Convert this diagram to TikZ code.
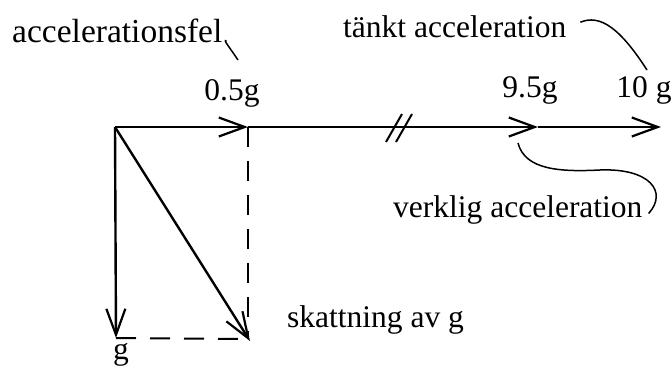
\documentclass[tikz,border=0pt]{standalone}
\usepackage{fontspec}
\setmainfont{Liberation Serif}
\usetikzlibrary{arrows.meta}

\begin{document}
\begin{tikzpicture}[x=1pt, y=-1pt,
        vec/.style={line width=2.4pt, -{Straight Barb[length=26pt, width=19pt, line width=2.2pt]}},
        helper/.style={line width=2pt, dash pattern=on 20pt off 14pt},
        callout/.style={line width=1.5pt},
        lbl/.style={font=\fontsize{31.5}{36}\selectfont, inner sep=0pt}]
    \useasboundingbox (0,0) rectangle (671,367);

    % points on the acceleration line
    \coordinate (O) at (115,127);
    \coordinate (a05) at (248,127);
    \coordinate (a95) at (538,127);
    \coordinate (a10) at (661,127);
    \coordinate (gtip) at (116,338);
    \coordinate (est) at (250,341);
    \coordinate (corner) at (248,339);

    % dashed construction lines
    \draw[helper] (a05) -- (corner);
    \draw[helper] (gtip) -- (corner);

    % vectors
    \draw[vec] (O) -- (a05);
    \draw[vec] (a05) -- (a95);
    \draw[vec] (a95) -- (a10);
    \draw[vec] (O) -- (gtip);
    \draw[vec] (O) -- (est);

    % break mark
    \foreach \x in {0, 10} {
        \draw[line width=2pt] (402+\x, 114) -- (386+\x, 142);
    }

    % labels
    \node[lbl, anchor=base] (l05) at (232,100) {0.5g};
    \node[lbl, anchor=base] (l95) at (530,97) {9.5g};
    \node[lbl, anchor=base] (l10) at (644,97) {10 g};
    \node[lbl, anchor=base] (lg) at (121,359) {g};
    \node[lbl, font=\fontsize{33.5}{38}\selectfont, anchor=base west] (err) at (12,42) {accelerationsfel};
    \node[lbl, anchor=base west] (tankt) at (343,37) {tänkt acceleration};
    \node[lbl, anchor=base west] (verklig) at (393,217) {verklig acceleration};
    \node[lbl, anchor=base west] (skatt) at (287,327) {skattning av g};

    % callout curves
    \coordinate (errend) at (238,60);
    \coordinate (tanktend) at (647,70);
    \coordinate (verkligend) at (518,143);
    \draw[callout] ([shift={(4,11)}]err.east) .. controls (222,38) and (230,48) .. (errend);
    \draw[callout] ([shift={(14,-4)}]tankt.east) .. controls (600,14) and (620,28) .. (tanktend);
    \draw[callout] ([shift={(6,4)}]verklig.east) .. controls (668,192) and (650,168) .. (600,170)
        .. controls (560,172) and (525,170) .. (verkligend);
\end{tikzpicture}
\end{document}
